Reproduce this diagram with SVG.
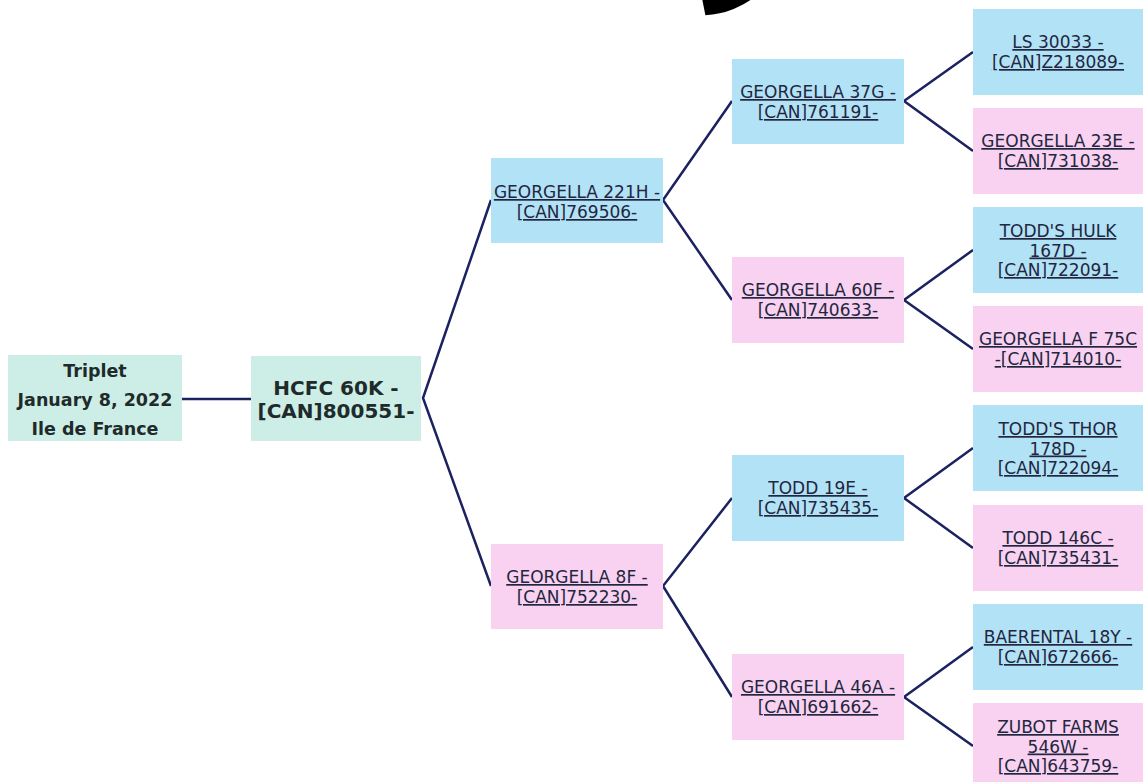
<svg xmlns="http://www.w3.org/2000/svg" width="1143" height="782" viewBox="0 0 1143 782">
<style>
.bg{fill:#ffffff}
.teal{fill:#cdeee7}
.blue{fill:#b2e2f6}
.pink{fill:#f8d2f0}
.lnk{font-family:"DejaVu Sans",Verdana,sans-serif;font-size:17px;fill:#23263f;text-anchor:middle;text-decoration:underline}
.bold{font-family:"DejaVu Sans",Verdana,sans-serif;font-weight:bold;fill:#1f2b2b;text-anchor:middle}
.con{fill:none;stroke:#1c2160;stroke-width:2.5;stroke-linejoin:miter}
</style>
<rect class="bg" x="0" y="0" width="1143" height="782"/>
<text x="752" y="-22" font-family="'DejaVu Sans',sans-serif" font-weight="bold" font-style="italic" font-size="150" fill="#000" text-anchor="middle" transform="rotate(-22 728 0)">g</text>
<g id="connectors">
<path class="con" d="M182,399 H251"/>
<path class="con" d="M491,200 L423,398 L491,586"/>
<path class="con" d="M732,101 L663,200 L732,300"/>
<path class="con" d="M732,498 L663,586 L732,697"/>
<path class="con" d="M973,52 L904,101 L973,151"/>
<path class="con" d="M973,250 L904,300 L973,349"/>
<path class="con" d="M973,448 L904,498 L973,548"/>
<path class="con" d="M973,647 L904,697 L973,746"/>
</g>
<g id="root"><rect class="teal" x="8" y="355" width="174" height="86"/>
<text class="bold" font-size="17.5" x="95" y="377">Triplet</text>
<text class="bold" font-size="17.5" x="95" y="406">January 8, 2022</text>
<text class="bold" font-size="17.5" x="95" y="435">Ile de France</text></g>
<g id="hcfc60k"><rect class="teal" x="251" y="356" width="170" height="85"/>
<text class="bold" font-size="20" x="336" y="395">HCFC 60K -</text>
<text class="bold" font-size="20" x="336" y="418">[CAN]800551-</text></g>
<g id="g221h"><rect class="blue" x="491" y="158" width="172" height="85"/>
<text class="lnk" x="577" y="198">GEORGELLA 221H -</text>
<text class="lnk" x="577" y="218">[CAN]769506-</text></g>
<g id="g8f"><rect class="pink" x="491" y="544" width="172" height="85"/>
<text class="lnk" x="577" y="583">GEORGELLA 8F -</text>
<text class="lnk" x="577" y="603">[CAN]752230-</text></g>
<g id="g37g"><rect class="blue" x="732" y="59" width="172" height="85"/>
<text class="lnk" x="818" y="98">GEORGELLA 37G -</text>
<text class="lnk" x="818" y="118">[CAN]761191-</text></g>
<g id="g60f"><rect class="pink" x="732" y="257" width="172" height="86"/>
<text class="lnk" x="818" y="296">GEORGELLA 60F -</text>
<text class="lnk" x="818" y="316">[CAN]740633-</text></g>
<g id="t19e"><rect class="blue" x="732" y="455" width="172" height="86"/>
<text class="lnk" x="818" y="494">TODD 19E -</text>
<text class="lnk" x="818" y="514">[CAN]735435-</text></g>
<g id="g46a"><rect class="pink" x="732" y="654" width="172" height="86"/>
<text class="lnk" x="818" y="693">GEORGELLA 46A -</text>
<text class="lnk" x="818" y="713">[CAN]691662-</text></g>
<g id="ls30033"><rect class="blue" x="973" y="9" width="170" height="86"/>
<text class="lnk" x="1058" y="48">LS 30033 -</text>
<text class="lnk" x="1058" y="68">[CAN]Z218089-</text></g>
<g id="g23e"><rect class="pink" x="973" y="108" width="170" height="86"/>
<text class="lnk" x="1058" y="147">GEORGELLA 23E -</text>
<text class="lnk" x="1058" y="167">[CAN]731038-</text></g>
<g id="hulk167d"><rect class="blue" x="973" y="207" width="170" height="86"/>
<text class="lnk" x="1058" y="237">TODD'S HULK</text>
<text class="lnk" x="1058" y="256.5">167D -</text>
<text class="lnk" x="1058" y="276">[CAN]722091-</text></g>
<g id="gf75c"><rect class="pink" x="973" y="306" width="170" height="86"/>
<text class="lnk" x="1058" y="345">GEORGELLA F 75C</text>
<text class="lnk" x="1058" y="365">-[CAN]714010-</text></g>
<g id="thor178d"><rect class="blue" x="973" y="405" width="170" height="86"/>
<text class="lnk" x="1058" y="435">TODD'S THOR</text>
<text class="lnk" x="1058" y="454.5">178D -</text>
<text class="lnk" x="1058" y="474">[CAN]722094-</text></g>
<g id="t146c"><rect class="pink" x="973" y="505" width="170" height="86"/>
<text class="lnk" x="1058" y="544">TODD 146C -</text>
<text class="lnk" x="1058" y="564">[CAN]735431-</text></g>
<g id="baer18y"><rect class="blue" x="973" y="604" width="170" height="86"/>
<text class="lnk" x="1058" y="643">BAERENTAL 18Y -</text>
<text class="lnk" x="1058" y="663">[CAN]672666-</text></g>
<g id="zubot546w"><rect class="pink" x="973" y="703" width="170" height="86"/>
<text class="lnk" x="1058" y="733">ZUBOT FARMS</text>
<text class="lnk" x="1058" y="752.5">546W -</text>
<text class="lnk" x="1058" y="772">[CAN]643759-</text></g>
</svg>
